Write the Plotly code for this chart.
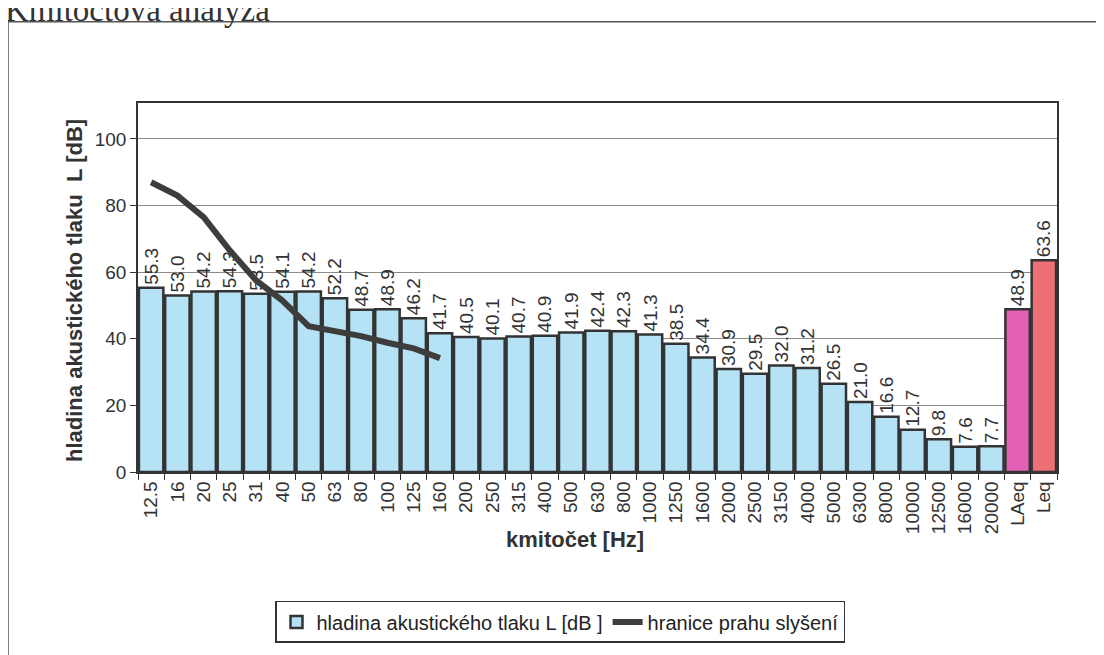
import plotly.graph_objects as go

categories = ["12.5", "16", "20", "25", "31", "40", "50", "63", "80", "100", "125", "160",
              "200", "250", "315", "400", "500", "630", "800", "1000", "1250", "1600",
              "2000", "2500", "3150", "4000", "5000", "6300", "8000", "10000", "12500",
              "16000", "20000", "LAeq", "Leq"]
levels = [55.3, 53.0, 54.2, 54.3, 53.5, 54.1, 54.2, 52.2, 48.7, 48.9, 46.2, 41.7,
          40.5, 40.1, 40.7, 40.9, 41.9, 42.4, 42.3, 41.3, 38.5, 34.4,
          30.9, 29.5, 32.0, 31.2, 26.5, 21.0, 16.6, 12.7, 9.8,
          7.6, 7.7, 48.9, 63.6]
threshold_cats = ["12.5", "16", "20", "25", "31", "40", "50", "63", "80", "100", "125", "160"]
threshold = [87.0, 83.0, 76.5, 66.5, 57.5, 51.5, 43.8, 42.3, 40.8, 38.8, 37.1, 34.2]

bar_name = "hladina akustického tlaku L [dB ]"
line_name = "hranice prahu slyšení"

# page body margin offset (8px) compensation
OFF = 8
W, H = 1104 - OFF, 655 - OFF
L, T = 138 - OFF, 103 - OFF
R = W - (1057 - OFF)
B = H - (475 - OFF)
pw, ph = W - L - R, H - T - B

def px2x(rx):
    return (rx - OFF - L) / pw

def py2y(ry):
    return (H - B - (ry - OFF)) / ph

colors = ["#B5E2F5"] * 33 + ["#E460B4", "#EE6F76"]
font = "Arial, Liberation Sans, sans-serif"

fig = go.Figure()
fig.add_trace(go.Bar(
    x=categories, y=levels, name=bar_name,
    marker=dict(color=colors, line=dict(color="#333333", width=2.5)),
    text=[f"{v:.1f}" for v in levels], textposition="outside", textangle=-90,
    textfont=dict(family=font, size=19, color="#333333"),
    cliponaxis=False,
))
fig.add_trace(go.Scatter(
    x=threshold_cats, y=threshold, name=line_name, mode="lines",
    line=dict(color="#3d3d3d", width=6),
))

fig.update_layout(
    width=W, height=H,
    margin=dict(l=L, r=R, t=T, b=B),
    paper_bgcolor="white", plot_bgcolor="white",
    bargap=0.07,
    showlegend=True,
    legend=dict(orientation="h", x=px2x(560), xanchor="center", y=py2y(605), yanchor="top",
                bordercolor="#333333", borderwidth=1.5, font=dict(family=font, size=20, color="#222222"),
                bgcolor="white", itemwidth=30),
    font=dict(family=font, color="#333333"),
    uniformtext=dict(minsize=19, mode="show"),
)
fig.update_xaxes(
    type="category", categoryorder="array", categoryarray=categories,
    tickangle=-90, tickfont=dict(family=font, size=19, color="#333333"),
    ticks="outside", tickson="boundaries", ticklen=6, tickcolor="#333333",
    showline=True, linecolor="#333333", linewidth=1.5, mirror=True,
    showgrid=False,
)
fig.update_yaxes(
    range=[0, 110.8], tickvals=[0, 20, 40, 60, 80, 100],
    tickfont=dict(family=font, size=19, color="#333333"),
    ticks="outside", ticklen=6, tickcolor="#333333",
    showline=True, linecolor="#333333", linewidth=1.5, mirror=True,
    showgrid=True, gridcolor="#8a8a8a", gridwidth=1, zeroline=False,
)

# axis titles
fig.add_annotation(text="<b>kmitočet [Hz]</b>", xref="paper", yref="paper",
                   x=px2x(575), y=py2y(558), showarrow=False,
                   font=dict(family=font, size=22, color="#333333"))
fig.add_annotation(text="<b>hladina akustického tlaku  L [dB]</b>", xref="paper", yref="paper",
                   x=px2x(60), y=py2y(292), showarrow=False, textangle=-90,
                   font=dict(family=font, size=22, color="#333333"))
# partially cut-off page title (cut at the top edge as in the scanned original)
fig.add_annotation(text="Kmitočtová analýza", xref="paper", yref="paper",
                   x=px2x(3), y=py2y(29), xanchor="left", yanchor="bottom", showarrow=False,
                   font=dict(family="Liberation Serif, Times New Roman, serif", size=33, color="#333333"))
# outer chart frame
fig.add_shape(type="rect", xref="paper", yref="paper",
              x0=px2x(8), x1=px2x(1110), y0=py2y(665), y1=py2y(21),
              line=dict(color="#555555", width=1.5), fillcolor="rgba(0,0,0,0)", layer="below")

fig.write_html("out.html")
